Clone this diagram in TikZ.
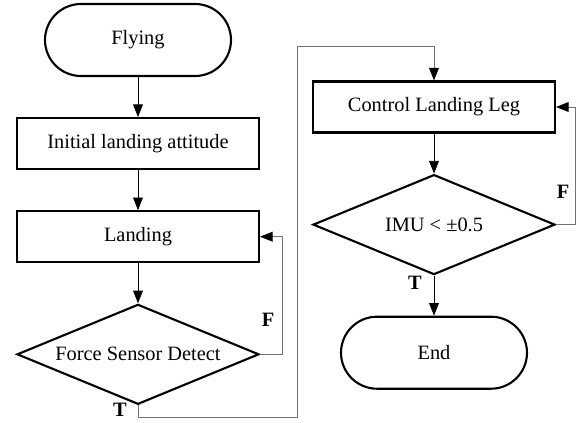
\documentclass[tikz,border=0pt]{standalone}
\usepackage{fontspec}
\setmainfont{Liberation Serif}
\usepackage{tikz}
\usetikzlibrary{arrows.meta,positioning,shapes.geometric}
\tikzset{
  fc/.style={node distance=1cm, every node/.style={font=\fontsize{14.5}{16}\selectfont}},
  term/.style={draw, line width=1.5pt, rectangle, rounded corners=0.9cm, minimum width=4.65cm, minimum height=1.8cm},
  proc/.style={draw, line width=1.5pt, rectangle, minimum width=6.05cm, minimum height=1.275cm},
  test/.style={draw, line width=1.5pt, diamond, aspect=2.4, inner sep=0pt, minimum width=6.05cm, minimum height=2.5cm},
  flow/.style={-{Triangle[length=9pt,width=7pt]}, line width=0.6pt},
  back/.style={-{Triangle[length=9pt,width=7pt,black]}, black!55, line width=0.7pt},
  flag/.style={font=\fontsize{14.5}{16}\selectfont\bfseries}
}

\begin{document}
\begin{tikzpicture}[fc]
\useasboundingbox (0,0) rectangle (14.4,-10.575);
% left column
\node[term] (fly) at (3.45,-1.0) {Flying};
\node[proc, below=of fly] (init) {Initial landing attitude};
\node[proc, below=of init] (land) {Landing};
\node[test, below=of land] (fsd) {Force Sensor Detect};
% right column
\node[proc] (ctrl) at (10.85,-2.675) {Control Landing Leg};
\node[test, below=of ctrl] (imu) {IMU < ±0.5};
\node[term, below=of imu] (end) {End};
\draw[flow] (fly) -- (init); \draw[flow] (init) -- (land); \draw[flow] (land) -- (fsd);
\draw[flow] (ctrl) -- (imu); \draw[flow] (imu) -- (end);
% F branches loop back
\draw[back] (fsd.east) -- ++(0.55,0) |- (land.east);
\draw[back] (imu.east) -- ++(0.48,0) |- (ctrl.east);
% T branch crosses over
\coordinate (tlow) at (7.425,-10.425);
\coordinate (ttop) at (7.425,-1.15);
\draw[back] (fsd.south) |- (tlow) -- (ttop) -| (ctrl.north);
\node[flag] (f1) at (6.7,-8.0) {F};
\node[flag] (t1) at (3.0,-10.25) {T};
\node[flag] (f2) at (14.075,-4.8) {F};
\node[flag] (t2) at (10.375,-7.075) {T};
\end{tikzpicture}
\end{document}
